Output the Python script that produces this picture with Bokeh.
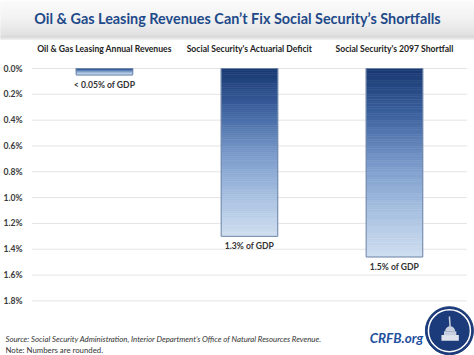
import numpy as np
from bokeh.plotting import figure
from bokeh.models import Range1d, FixedTicker, Label
from bokeh.layouts import column
from bokeh.embed import file_html
from bokeh.resources import INLINE
from bokeh.core.properties import value

# ---------------- data ----------------
title_text = "Oil & Gas Leasing Revenues Can\u2019t Fix Social Security\u2019s Shortfalls"
categories = ["Oil & Gas Leasing Annual Revenues",
              "Social Security's Actuarial Deficit",
              "Social Security's 2097 Shortfall"]
values = [0.05, 1.30, 1.46]
bar_labels = ["< 0.05% of GDP", "1.3% of GDP", "1.5% of GDP"]
y_ticks = [0.0, 0.2, 0.4, 0.6, 0.8, 1.0, 1.2, 1.4, 1.6, 1.8]
y_tick_labels = ["0.0%", "0.2%", "0.4%", "0.6%", "0.8%", "1.0%", "1.2%", "1.4%", "1.6%", "1.8%"]
source_text = "Source: Social Security Administration, Interior Department\u2019s Office of Natural Resources Revenue."
note_text = "Note: Numbers are rounded."
brand_text = "CRFB.org"

FONT = "Lato"
W = 474


def hex2rgb(h):
    h = h.lstrip("#")
    return np.array([int(h[i:i + 2], 16) for i in (0, 2, 4)], dtype=float)


def grad(stops, t):
    pos = [s[0] for s in stops]
    cols = [hex2rgb(s[1]) for s in stops]
    for i in range(len(pos) - 1):
        if pos[i] <= t <= pos[i + 1]:
            f = (t - pos[i]) / (pos[i + 1] - pos[i])
            c = cols[i] * (1 - f) + cols[i + 1] * f
            return "#%02x%02x%02x" % tuple(int(round(v)) for v in c)
    c = cols[-1]
    return "#%02x%02x%02x" % tuple(int(round(v)) for v in c)


# ---------------- header band ----------------
header = figure(width=W, height=40, x_range=Range1d(0, 1), y_range=Range1d(0, 1),
                x_axis_location=None, y_axis_location=None,
                output_backend="svg", toolbar_location=None, min_border=0)
header.grid.visible = False
header.outline_line_color = None
hb_stops = [(0.0, "#fbfbfb"), (0.5, "#f0f0f0"), (0.85, "#e0e0e0"), (0.92, "#d6d6d6"), (1.0, "#f4f4f4")]
n = 40
edges = np.linspace(1, 0, n + 1)
hcols = [grad(hb_stops, (k + 0.5) / n) for k in range(n)]
header.quad(left=0, right=1, top=edges[:-1], bottom=edges[1:],
            fill_color=hcols, line_color=hcols, line_width=0.5)
header.add_layout(Label(x=0.5, y=0.55, text=title_text, text_align="center",
                        text_baseline="middle", text_font=FONT, text_font_style="bold",
                        text_font_size="14.4px", text_color="#1f4a8a"))

# ---------------- main chart ----------------
xpos = list(range(len(categories)))
X0, X1 = -0.717, 2.552   # frame spans the whole figure width
p = figure(width=W, height=315,
           x_range=Range1d(X0, X1), y_range=Range1d(2.223, -0.062),
           x_axis_location="above", y_axis_location=None,
           output_backend="svg", toolbar_location=None,
           min_border_left=0, min_border_right=0, min_border_top=18, min_border_bottom=0)
p.outline_line_color = None
p.grid.visible = False

# category axis on top
p.xaxis.ticker = FixedTicker(ticks=xpos)
p.xaxis.major_label_overrides = {i: c for i, c in zip(xpos, categories)}
p.xaxis.axis_line_color = None
p.xaxis.major_tick_line_color = None
p.xaxis.minor_tick_line_color = None
p.xaxis.major_label_standoff = 1
p.xaxis.major_label_text_font = FONT
p.xaxis.major_label_text_font_style = "bold"
p.xaxis.major_label_text_font_size = "8.6px"
p.xaxis.major_label_text_color = "#222222"

# horizontal grid lines and value labels
p.segment(x0=[-0.5] * len(y_ticks), x1=[2.5] * len(y_ticks), y0=y_ticks, y1=y_ticks,
          line_color="#e4e4e4", line_width=1)
p.text(x=[X0 + 22 / 145] * len(y_ticks), y=y_ticks, text=y_tick_labels,
       text_align="right", text_baseline="middle", text_font=value(FONT),
       text_font_style="bold", text_font_size="8.6px", text_color="#3a3a3a")

# gradient bars built as strips of each bar
bar_stops = [(0.0, "#173771"), (0.25, "#3d629f"), (0.5, "#7898c9"), (0.75, "#a5bfe0"), (1.0, "#cfdef0")]
N = 80
xs, tops, bots, cols = [], [], [], []
fr = np.linspace(0, 1, N + 1)
for x, v in zip(xpos, values):
    for k in range(N):
        xs.append(x)
        tops.append(v * fr[k])
        bots.append(v * fr[k + 1])
        cols.append(grad(bar_stops, (fr[k] + fr[k + 1]) / 2))
BW = 0.39
p.vbar(x=xs, top=tops, bottom=bots, width=BW, fill_color=cols, line_color=cols, line_width=0.6)
p.vbar(x=xpos, top=[0] * len(values), bottom=values, width=BW,
       fill_color=None, line_color="#6f86a8", line_width=1)

p.text(x=xpos, y=values, text=bar_labels, y_offset=5, text_align="center",
       text_baseline="top", text_font=value(FONT), text_font_style="bold",
       text_font_size="8.6px", text_color="#333333")

# footer texts
p.add_layout(Label(x=X0 + 5 / 145, y=2.092, text=source_text, text_align="left", text_baseline="middle",
                   text_font=FONT, text_font_style="italic", text_font_size="7.8px",
                   text_color="#333333"))
p.add_layout(Label(x=X0 + 5 / 145, y=2.183, text=note_text, text_align="left", text_baseline="middle",
                   text_font=FONT, text_font_size="7.8px", text_color="#333333"))
p.add_layout(Label(x=2.014, y=2.085, text=brand_text, text_align="center", text_baseline="middle",
                   text_font=FONT, text_font_style="bold italic", text_font_size="13.5px",
                   text_color="#1f4f9e"))

# logo seal
lx, ly = 2.379, 2.031
p.scatter(x=[lx], y=[ly], size=48, fill_color="#1b3b7b", line_color="#1b3b7b")
p.scatter(x=[lx], y=[ly], size=42, fill_color=None, line_color="white", line_width=1.5)
p.rect(x=[lx + 0.005], y=[ly + 0.055], width=0.12, height=0.045, fill_color="#dde2ec", line_color=None)
p.rect(x=[lx + 0.005], y=[ly + 0.02], width=0.085, height=0.03, fill_color="#c8d0df", line_color=None)
p.wedge(x=[lx + 0.005], y=[ly + 0.005], radius=5, radius_units="screen", start_angle=0,
        end_angle=np.pi, direction="anticlock", fill_color="#c9d0de", line_color=None)
p.segment(x0=[lx], y0=[ly - 0.11], x1=[lx + 0.005], y1=[ly - 0.03], line_color="#c9d0de", line_width=1.5)

layout = column(header, p, spacing=0)
open("out.html", "w").write(file_html(layout, INLINE))
